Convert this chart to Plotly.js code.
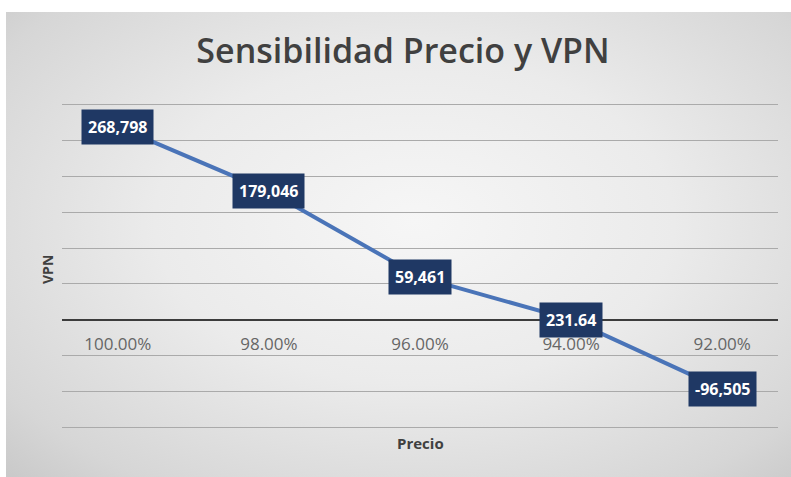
<!DOCTYPE html>
<html>
<head>
<meta charset="utf-8">
<script src="https://cdn.plot.ly/plotly-3.0.1.min.js"></script>
<style>
  html, body { margin: 0; padding: 0; background: #ffffff; }
  #wrap { position: relative; width: 791px; height: 477px; background: #ffffff; overflow: hidden; }
  #bg { position: absolute; left: 6px; top: 12px; width: 785px; height: 465px;
        background: radial-gradient(ellipse at 52% 45%, #f6f6f6 0%, #ebebeb 45%, #d6d6d6 85%, #c9c9c9 100%); }
  #chart { position: absolute; left: 0; top: 0; width: 791px; height: 477px; }
</style>
</head>
<body>
<div id="wrap"><div id="bg"></div><div id="chart"></div></div>
<script>
// ---- data ----
const categories = ['100.00%', '98.00%', '96.00%', '94.00%', '92.00%'];
const vpnValues = [268798, 179046, 59461, 231.64, -96505];
const labelTexts = ['268,798', '179,046', '59,461', '231.64', '-96,505'];
const chartTitle = 'Sensibilidad Precio y VPN';
const xTitle = 'Precio';
const yTitle = 'VPN';

const FONT = '"Open Sans", "Noto Sans", sans-serif';
const yRange = [-152000, 302000];
const plotH = 477 - 103 - 48;

const trace = {
  type: 'scatter',
  mode: 'lines+markers',
  x: categories,
  y: vpnValues,
  line: { color: '#4a74b8', width: 4 },
  marker: { size: 32, color: '#22406f' },
  hoverinfo: 'skip',
  cliponaxis: false
};

const labelAnnotations = categories.map((c, i) => ({
  x: c, y: vpnValues[i], xref: 'x', yref: 'y',
  text: '<b>' + labelTexts[i] + '</b>',
  showarrow: false,
  bgcolor: '#1f3864',
  borderpad: 6,
  font: { family: FONT, size: 16, color: '#ffffff' }
}));

const layout = {
  width: 791, height: 477,
  margin: { l: 62, r: 13, t: 103, b: 48 },
  paper_bgcolor: 'rgba(0,0,0,0)',
  plot_bgcolor: 'rgba(0,0,0,0)',
  showlegend: false,
  title: {
    text: chartTitle,
    xref: 'container', yref: 'container',
    x: 403 / 791, y: 1 - 51 / 477, xanchor: 'center', yanchor: 'middle',
    font: { family: FONT, size: 34, color: '#404040', weight: 600 }
  },
  xaxis: {
    type: 'category',
    anchor: 'free', position: (0 - yRange[0]) / (yRange[1] - yRange[0]),
    showline: false, showgrid: false, zeroline: false,
    ticks: '', ticklabelstandoff: 12,
    tickfont: { family: FONT, size: 17, color: '#666666' },
    fixedrange: true
  },
  yaxis: {
    range: yRange,
    dtick: 50000, tick0: 0,
    showticklabels: false,
    ticks: '',
    showgrid: true, gridcolor: '#aaaaaa', gridwidth: 1,
    zeroline: true, zerolinecolor: '#3c3c3c', zerolinewidth: 2.5,
    showline: false,
    fixedrange: true
  },
  annotations: labelAnnotations.concat([
    { text: '<b>' + xTitle + '</b>', xref: 'paper', yref: 'paper', x: 0.5, y: -14 / plotH,
      yanchor: 'middle', showarrow: false,
      font: { family: FONT, size: 15, color: '#404040' } },
    { text: '<b>' + yTitle + '</b>', xref: 'paper', yref: 'paper', x: -15 / 716, y: 0.5 - 4 / plotH,
      xanchor: 'center', yanchor: 'middle', textangle: -90, showarrow: false,
      font: { family: FONT, size: 14, color: '#404040' } }
  ])
};

Plotly.newPlot('chart', [trace], layout, { displayModeBar: false, staticPlot: true });
</script>
</body>
</html>
